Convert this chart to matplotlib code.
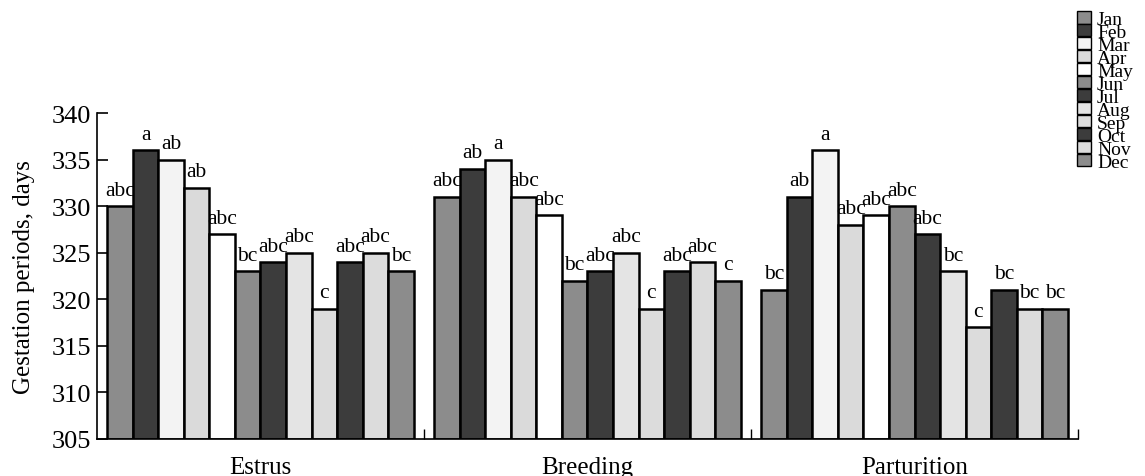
import matplotlib
matplotlib.use("Agg")
import matplotlib.pyplot as plt
import numpy as np

plt.rcParams['font.family'] = ['Liberation Serif', 'DejaVu Serif']

categories = ["Estrus", "Breeding", "Parturition"]
months = ["Jan", "Feb", "Mar", "Apr", "May", "Jun", "Jul", "Aug", "Sep", "Oct", "Nov", "Dec"]

estrus = [330, 336, 335, 332, 327, 323, 324, 325, 319, 324, 325, 323]
breeding = [331, 334, 335, 331, 329, 322, 323, 325, 319, 323, 324, 322]
parturition = [321, 331, 336, 328, 329, 330, 327, 323, 317, 321, 319, 319]

estrus_lbl = ["abc", "a", "ab", "ab", "abc", "bc", "abc", "abc", "c", "abc", "abc", "bc"]
breeding_lbl = ["abc", "ab", "a", "abc", "abc", "bc", "abc", "abc", "c", "abc", "abc", "c"]
parturition_lbl = ["bc", "ab", "a", "abc", "abc", "abc", "abc", "bc", "c", "bc", "bc", "bc"]

yticks = [305, 310, 315, 320, 325, 330, 335, 340]

colors = ["#8c8c8c", "#3c3c3c", "#f3f3f3", "#dadada", "#ffffff", "#8c8c8c",
          "#3c3c3c", "#e4e4e4", "#dcdcdc", "#3c3c3c", "#dcdcdc", "#8c8c8c"]

data = [estrus, breeding, parturition]
labels = [estrus_lbl, breeding_lbl, parturition_lbl]

fig = plt.figure(figsize=(11.45, 4.77), dpi=100)
ax = fig.add_axes([0.0847, 0.0776, 0.8568, 0.6834])

bw = 0.078
n = len(months)
for m in range(n):
    xs = [i + 0.5 + (m - (n - 1) / 2) * bw for i in range(len(categories))]
    vals = [data[i][m] for i in range(len(categories))]
    ax.bar(xs, [v - 305 for v in vals], bottom=305, width=bw, color=colors[m],
           edgecolor="black", linewidth=1.8, label=months[m], zorder=2)
    for i in range(len(categories)):
        ax.text(xs[i], vals[i] + 0.7, labels[i][m], ha="center", va="bottom",
                fontsize=15.5, clip_on=False)

ax.set_xlim(0, 3)
ax.set_ylim(305, 340)
ax.spines['top'].set_visible(False)
ax.spines['right'].set_visible(False)
ax.spines['left'].set_linewidth(1.2)
ax.spines['bottom'].set_linewidth(1.2)
ax.set_yticks(yticks)
ax.set_yticklabels([str(t) for t in yticks], fontsize=19)
ax.tick_params(axis='y', direction='in', length=8, width=1.2, pad=4)
ax.set_xticks([1, 2, 3])
ax.set_xticklabels([])
ax.tick_params(axis='x', direction='in', length=7, width=1.0)
for i, c in enumerate(categories):
    ax.text(i + 0.5, 303.2, c, ha="center", va="top", fontsize=18, clip_on=False)
ax.set_ylabel("Gestation periods, days", fontsize=18, labelpad=12)

handles, lbls = ax.get_legend_handles_labels()
leg = fig.legend(handles, lbls, loc="upper left", bbox_to_anchor=(0.9405, 0.975),
                 frameon=False, fontsize=14, handlelength=0.72, handleheight=0.62,
                 handletextpad=0.32, labelspacing=-0.215, borderpad=0, borderaxespad=0)
for h in leg.legend_handles:
    h.set_linewidth(1.0)

fig.savefig("out.png", dpi=100)
